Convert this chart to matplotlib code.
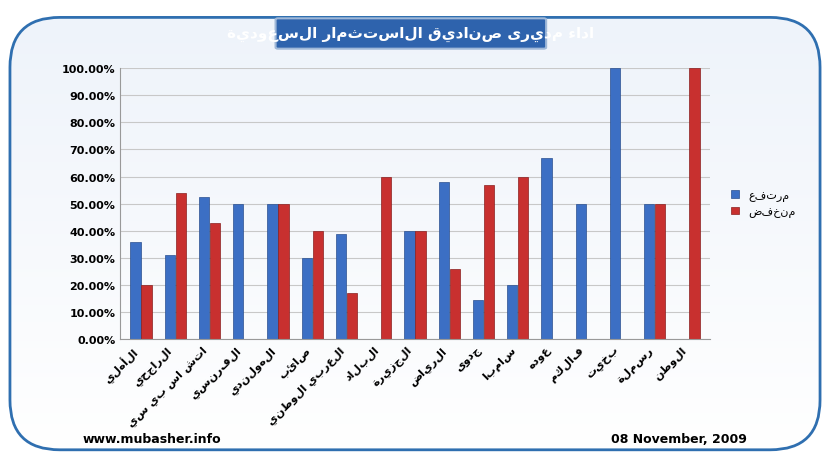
import matplotlib
matplotlib.use("Agg")
import matplotlib.pyplot as plt
import numpy as np
from matplotlib.patches import FancyBboxPatch

def rtl(s):
    return s[::-1]

categories = ["الأهلي", "الراجحي", "اتش اس بي سي", "الفرنسي", "الهولندي", "صائب",
              "العربي الوطني", "البلاد", "الجزيرة", "الرياض", "جدوى", "سامبا",
              "عوده", "فالكم", "بخيت", "رسملة", "الوطن"]
up = [36, 31, 52.5, 50, 50, 30, 39, 0, 40, 58, 14.5, 20, 66.7, 50, 100, 50, 0]
down = [20, 54, 43, 0, 50, 40, 17, 60, 40, 26, 57, 60, 0, 0, 0, 50, 100]
series_names = ["مرتفع", "منخفض"]
title = "اداء مديرى صناديق الاستثمار السعودية"

fig = plt.figure(figsize=(8.3, 4.6), dpi=100)
fig.patch.set_facecolor("white")
bg = fig.add_axes([0, 0, 1, 1], zorder=-5)
bg.axis("off")
bg.set_xlim(0, 1); bg.set_ylim(0, 1)
frame = FancyBboxPatch((0.012, 0.02), 0.976, 0.94, boxstyle="round,pad=0,rounding_size=0.06",
                       fc="none", ec="#2f6fb0", lw=2, mutation_aspect=830/460)
bg.add_patch(frame)
grad = np.linspace(0, 1, 256).reshape(-1, 1)
im = bg.imshow(grad, extent=[0.012, 0.988, 0.02, 0.96],
               cmap=matplotlib.colors.LinearSegmentedColormap.from_list("g", ["#ffffff", "#eef3fa"]),
               aspect="auto", origin="lower", zorder=0)
im.set_clip_path(frame)
frame.set_zorder(1)
bg.add_patch(FancyBboxPatch((0.335, 0.895), 0.32, 0.06, boxstyle="round,pad=0.003",
                            fc="#2e63ad", ec="#9fb8d8", lw=1.5, zorder=2))
bg.text(0.495, 0.925, rtl(title), ha="center", va="center", color="white",
        fontsize=11, fontweight="bold", family="DejaVu Sans", zorder=3)
bg.text(0.10, 0.045, "www.mubasher.info", fontsize=9, fontweight="bold", va="center")
bg.text(0.90, 0.045, "08 November, 2009", fontsize=9, fontweight="bold", va="center", ha="right")

ax = fig.add_axes([0.145, 0.26, 0.71, 0.59])
ax.set_facecolor("none")
x = np.arange(len(categories))
w = 0.3
ax.bar(x - w/2 - 0.01, up, w, color="#3c6fc4", edgecolor="#2a4f8f", lw=0.5, label=rtl(series_names[0]))
ax.bar(x + w/2 + 0.01, down, w, color="#c8302f", edgecolor="#8a1f1f", lw=0.5, label=rtl(series_names[1]))
ax.set_ylim(0, 100)
ax.set_xlim(-0.6, len(categories) - 0.4)
ax.set_yticks(np.arange(0, 101, 10))
ax.set_yticklabels([f"{v:.2f}%" for v in np.arange(0, 101, 10)], fontsize=8, fontweight="bold")
ax.yaxis.grid(True, color="#c8c8c8", lw=0.8)
ax.set_axisbelow(True)
ax.set_xticks(x)
ax.set_xticklabels([rtl(c) for c in categories], rotation=45, ha="right", fontsize=8, fontweight="bold")
for s in ["top", "right"]:
    ax.spines[s].set_visible(False)
ax.spines["left"].set_color("#999999")
ax.spines["bottom"].set_color("#999999")
ax.tick_params(length=0)
ax.legend(loc="center left", bbox_to_anchor=(1.02, 0.5), frameon=False, fontsize=8,
          handlelength=0.7, handleheight=0.7)
fig.savefig("out.png", dpi=100)
